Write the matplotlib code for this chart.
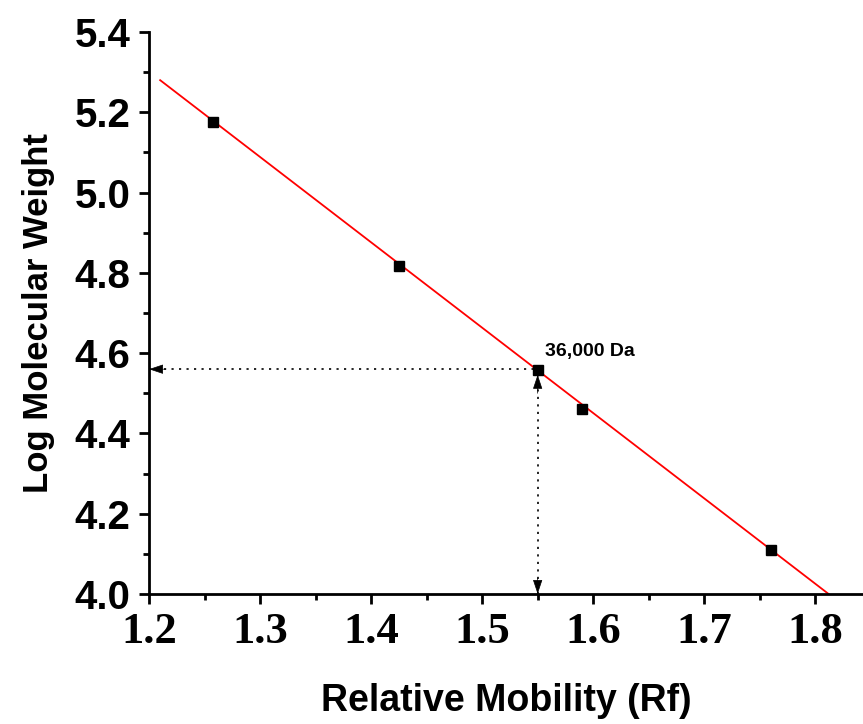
import numpy as np
import matplotlib.pyplot as plt

# standard proteins: relative mobility vs log MW
rf = [1.258, 1.425, 1.550, 1.590, 1.760]
log_mw = [5.175, 4.818, 4.558, 4.462, 4.110]

# fitted line as drawn
fit_x = [1.210, 1.812]
fit_y = [5.280, 4.000]

# unknown protein
unk_x = 1.550
unk_y = 4.560
unk_label = '36,000 Da'

xt = [1.2, 1.3, 1.4, 1.5, 1.6, 1.7, 1.8]
yt = [4.0, 4.2, 4.4, 4.6, 4.8, 5.0, 5.2, 5.4]

fig = plt.figure(figsize=(8.63, 7.24), dpi=100)
ax = fig.add_axes([0.1727, 0.1796, 0.8273, 0.7762])

ax.plot(fit_x, fit_y, color='red', lw=1.3, zorder=2)
ax.plot(rf, log_mw, 's', color='black', ms=7.5, zorder=3)

# dotted read-off lines
dot = (0, (1.3, 3.2))
ax.plot([1.2, unk_x], [unk_y, unk_y], color='black', lw=1.2, ls=dot, zorder=1)
ax.plot([unk_x, unk_x], [4.0, unk_y], color='black', lw=1.2, ls=dot, zorder=1)

# solid arrowheads
head = dict(arrowstyle='-|>,head_length=0.9,head_width=0.3', lw=0.5, color='black',
            mutation_scale=10, shrinkA=0, shrinkB=0)
ax.annotate('', xy=(1.2, unk_y), xytext=(1.215, unk_y), arrowprops=head)
ax.annotate('', xy=(unk_x, 4.0), xytext=(unk_x, 4.04), arrowprops=head)
ax.annotate('', xy=(unk_x, unk_y - 0.014), xytext=(unk_x, unk_y - 0.06), arrowprops=head)

ax.text(unk_x + 0.007, unk_y + 0.045, unk_label, fontsize=14, fontweight='bold',
        family='Liberation Sans', va='center', ha='left')

ax.set_xlim(1.2, 1.843)
ax.set_ylim(4.0, 5.4)
ax.set_xticks(xt)
ax.set_xticks(np.arange(1.25, 1.84, 0.1), minor=True)
ax.set_yticks(yt)
ax.set_yticks(np.arange(4.1, 5.4, 0.2), minor=True)
ax.set_xticklabels(['%.1f' % v for v in xt],
                   family='Liberation Serif', fontweight='bold', fontsize=32)
ax.set_yticklabels(['%.1f' % v for v in yt],
                   family='Liberation Sans', fontweight='bold', fontsize=29)

for s in ['top', 'right']:
    ax.spines[s].set_visible(False)
for s in ['left', 'bottom']:
    ax.spines[s].set_linewidth(2)
ax.tick_params(which='major', direction='out', length=7.2, width=2, pad=6)
ax.tick_params(which='minor', direction='out', length=4, width=2)

ax.set_xlabel('Relative Mobility (Rf)', family='Liberation Sans', fontweight='bold',
              fontsize=27, labelpad=22)
ax.set_ylabel('Log Molecular Weight', family='Liberation Sans',
              fontweight='bold', fontsize=25, labelpad=14)

fig.savefig('out.png', dpi=100)
